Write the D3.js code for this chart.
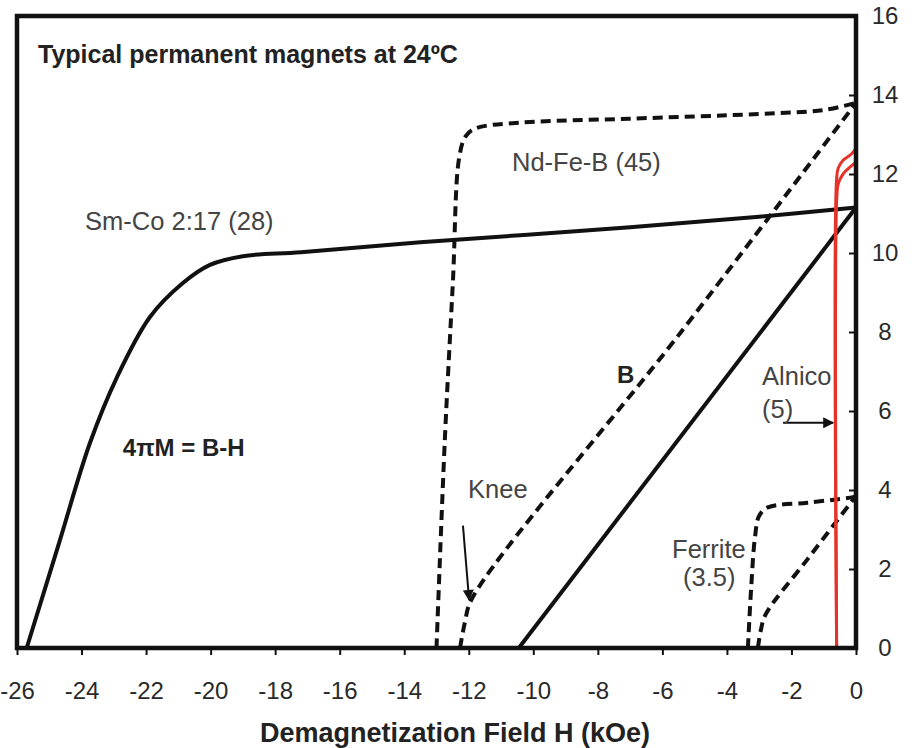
<!DOCTYPE html>
<html>
<head>
<meta charset="utf-8">
<script src="https://cdn.jsdelivr.net/npm/d3@7"></script>
<style>
  html, body { margin: 0; padding: 0; background: #fff; }
  svg { display: block; font-family: "Liberation Sans", Arial, sans-serif; }
</style>
</head>
<body>
<svg id="chart" width="912" height="748"></svg>
<script>
// Demagnetization curves (H in kOe, B / 4πM in kG)
const hTicks = [-26, -24, -22, -20, -18, -16, -14, -12, -10, -8, -6, -4, -2, 0];
const bTicks = [0, 2, 4, 6, 8, 10, 12, 14, 16];

// Sm-Co 2:17 — intrinsic curve (4πM) and normal curve (B)
const smcoIntrH = [-25.7, -24.7, -23.74, -22.9, -21.88, -20.86, -20.02, -19.0, -17.2, -13.5, -7.0, -3.0, 0];
const smcoIntrB = [0, 2.65, 5.19, 6.86, 8.38, 9.24, 9.7, 9.92, 10.02, 10.27, 10.65, 10.92, 11.15];
const smcoNormH = [-10.45, 0];
const smcoNormB = [0, 11.15];

// Nd-Fe-B (45)
const ndfebIntrH = [-13.0, -12.74, -12.49, -12.3, -12.1, -11.8, -10.4, -7.0, -3.0, -1.0, 0];
const ndfebIntrB = [0, 5.3, 9.3, 12.4, 12.95, 13.15, 13.3, 13.4, 13.52, 13.62, 13.8];
const ndfebNormH = [-12.27, -12.12, -11.9, -5.45, 0];
const ndfebNormB = [0, 0.65, 1.25, 7.97, 13.8];

// Ferrite (3.5)
const ferrIntrH = [-3.35, -3.25, -3.13, -3.0, -2.73, -1.5, -0.09, 0];
const ferrIntrB = [0, 1.5, 2.81, 3.35, 3.56, 3.68, 3.82, 3.85];
const ferrNormH = [-3.04, -2.95, -2.8, -1.5, 0];
const ferrNormB = [0, 0.45, 0.85, 2.25, 3.85];

// Alnico (5)
const alnIntrH = [-0.6, -0.6, -0.55, -0.4, -0.15, 0];
const alnIntrB = [0, 11.9, 12.15, 12.35, 12.5, 12.65];
const alnNormH = [-0.6, -0.6, -0.55, -0.4, -0.15, 0];
const alnNormB = [0, 11.3, 11.75, 12.0, 12.2, 12.3];

const svg = d3.select("#chart");
const x = d3.scaleLinear().domain([-26, 0]).range([17, 856]);
const y = d3.scaleLinear().domain([0, 16]).range([648, 16]);

const zip = (hs, bs) => hs.map((h, i) => [h, bs[i]]);
const line = d3.line().x(d => x(d[0])).y(d => y(d[1])).curve(d3.curveCatmullRom.alpha(0.5));

// Axes
const bottom = svg.append("g")
  .attr("transform", `translate(0,${y(0)})`)
  .call(d3.axisBottom(x).tickValues(hTicks).tickSizeInner(7).tickSizeOuter(0).tickPadding(27).tickFormat(d3.format("d")));
bottom.select(".domain").remove();
bottom.selectAll(".tick line").attr("stroke", "#111").attr("stroke-width", 2);
bottom.selectAll(".tick text").attr("fill", "#2a2a2a").attr("font-size", 24)
  .text(d => d === 0 ? "0" : String(d).replace("\u2212", "-"));

const right = svg.append("g")
  .attr("transform", `translate(${x(0)},0)`)
  .call(d3.axisRight(y).tickValues(bTicks).tickSizeInner(-7).tickSizeOuter(0).tickPadding(0));
right.select(".domain").remove();
right.selectAll(".tick line").attr("stroke", "#111").attr("stroke-width", 2);
right.selectAll(".tick text").attr("fill", "#2a2a2a").attr("font-size", 24)
  .attr("x", 29).attr("text-anchor", "middle");

// Curves
const black = "#111";
const dash = "10,6";
const curves = [
  { pts: zip(smcoIntrH, smcoIntrB), color: black, dash: null },
  { pts: zip(smcoNormH, smcoNormB), color: black, dash: null },
  { pts: zip(ndfebIntrH, ndfebIntrB), color: black, dash: dash },
  { pts: zip(ndfebNormH, ndfebNormB), color: black, dash: dash },
  { pts: zip(ferrIntrH, ferrIntrB), color: black, dash: dash },
  { pts: zip(ferrNormH, ferrNormB), color: black, dash: dash },
  { pts: zip(alnIntrH, alnIntrB), color: "#e5332a", dash: null },
  { pts: zip(alnNormH, alnNormB), color: "#e5332a", dash: null }
];
svg.append("g").selectAll("path").data(curves).join("path")
  .attr("d", d => line(d.pts))
  .attr("fill", "none")
  .attr("stroke", d => d.color)
  .attr("stroke-width", d => d.color === black ? 4 : 3)
  .attr("stroke-dasharray", d => d.dash)
  .attr("stroke-linejoin", "round");

// Plot frame
svg.append("rect")
  .attr("x", x(-26)).attr("y", y(16))
  .attr("width", x(0) - x(-26)).attr("height", y(0) - y(16))
  .attr("fill", "none").attr("stroke", "#111").attr("stroke-width", 4.5);

// Arrow markers
svg.append("defs").append("marker")
  .attr("id", "head").attr("viewBox", "0 0 10 10").attr("refX", 9).attr("refY", 5)
  .attr("markerWidth", 7).attr("markerHeight", 5.5).attr("orient", "auto")
  .attr("markerUnits", "strokeWidth")
  .append("path").attr("d", "M0,0 L10,5 L0,10 Z").attr("fill", "#111");

const arrows = [
  { from: [-12.18, 3.1], to: [-11.99, 1.22] },
  { from: [-2.26, 5.7], to: [-0.71, 5.7] }
];
svg.append("g").selectAll("line").data(arrows).join("line")
  .attr("x1", d => x(d.from[0])).attr("y1", d => y(d.from[1]))
  .attr("x2", d => x(d.to[0])).attr("y2", d => y(d.to[1]))
  .attr("stroke", "#111").attr("stroke-width", 2)
  .attr("marker-end", "url(#head)");

// Curve labels
const labels = [
  { t: "Sm-Co 2:17 (28)", h: -23.89, b: 10.58, bold: false },
  { t: "Nd-Fe-B (45)", h: -10.66, b: 12.08, bold: false },
  { t: "4\u03c0M = B-H", h: -22.72, b: 4.86, bold: true },
  { t: "B", h: -7.41, b: 6.71, bold: true },
  { t: "Knee", h: -12.02, b: 3.8, bold: false },
  { t: "Ferrite", h: -5.70, b: 2.28, bold: false },
  { t: "(3.5)", h: -5.36, b: 1.57, bold: false },
  { t: "Alnico", h: -2.91, b: 6.66, bold: false },
  { t: "(5)", h: -2.91, b: 5.82, bold: false }
];
svg.append("g").selectAll("text").data(labels).join("text")
  .attr("x", d => x(d.h)).attr("y", d => y(d.b))
  .attr("font-size", d => d.bold ? 24 : 25.5)
  .attr("font-weight", d => d.bold ? "bold" : "normal")
  .attr("fill", d => d.bold ? "#222" : "#444")
  .text(d => d.t);

// Title and axis title
svg.append("text").attr("x", 38).attr("y", 63)
  .attr("font-size", 25).attr("font-weight", "bold").attr("fill", "#222")
  .text("Typical permanent magnets at 24\u00baC");

svg.append("text").attr("x", 455).attr("y", 742).attr("text-anchor", "middle")
  .attr("font-size", 27).attr("font-weight", "bold").attr("fill", "#222")
  .text("Demagnetization Field H (kOe)");
</script>
</body>
</html>
